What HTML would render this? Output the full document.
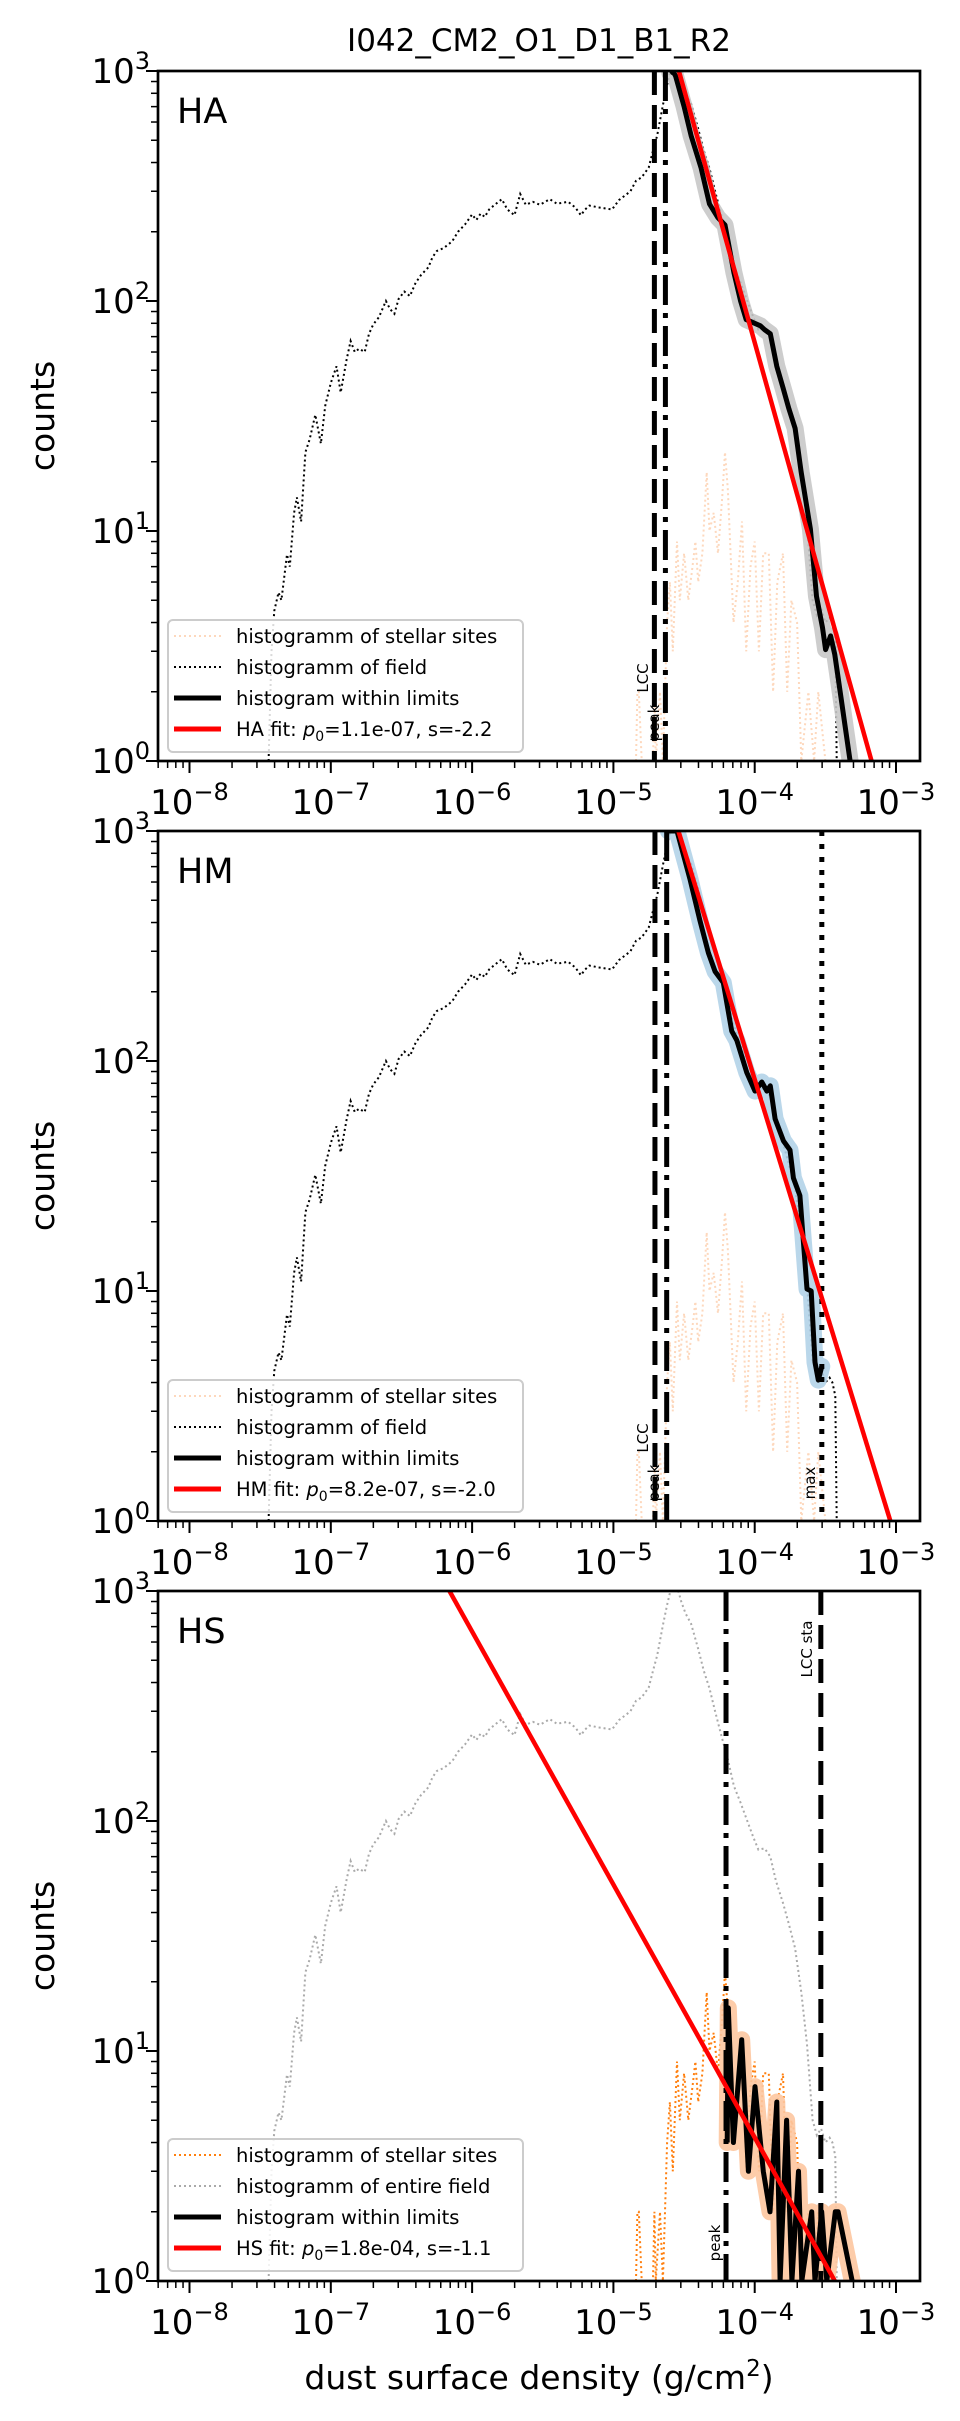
<!DOCTYPE html>
<html><head><meta charset="utf-8"><style>
html,body{margin:0;padding:0;background:#fff;}
svg{display:block;font-family:"DejaVu Sans","Liberation Sans",sans-serif;}
</style></head><body>
<svg id="fig" width="960" height="2421" viewBox="0 0 960 2421" xmlns="http://www.w3.org/2000/svg">
<rect width="960" height="2421" fill="#fff"/>
<text x="539" y="51" font-size="31" text-anchor="middle">I042_CM2_O1_D1_B1_R2</text>
<text x="539" y="2389" font-size="33" text-anchor="middle">dust surface density (g/cm<tspan dy="-13" font-size="23">2</tspan><tspan dy="13">)</tspan></text>
<g id="panels"></g>
</svg>
<script>
// ---- data (x values are log10 of dust surface density, g/cm^2) ----
const fieldLogX = [-7.44,-7.42,-7.40,-7.37,-7.35,-7.31,-7.29,-7.26,-7.24,-7.21,-7.18,-7.15,-7.11,-7.07,-7.04,-7.00,-6.96,-6.93,-6.89,-6.86,-6.83,-6.80,-6.76,-6.73,-6.70,-6.66,-6.61,-6.58,-6.55,-6.52,-6.48,-6.44,-6.40,-6.36,-6.31,-6.28,-6.25,-6.20,-6.14,-6.10,-6.05,-6.00,-5.97,-5.94,-5.91,-5.88,-5.84,-5.79,-5.75,-5.70,-5.66,-5.62,-5.57,-5.52,-5.45,-5.40,-5.32,-5.27,-5.23,-5.20,-5.17,-5.10,-5.01,-4.96,-4.92,-4.88,-4.84,-4.80,-4.75,-4.72,-4.69,-4.65,-4.62,-4.60,-4.58,-4.55,-4.52,-4.49,-4.45,-4.40,-4.36,-4.32,-4.28,-4.234,-4.19,-4.147,-4.10,-4.06,-4.01,-3.974,-3.93,-3.89,-3.85,-3.80,-3.76,-3.714,-3.67,-3.63,-3.59,-3.56,-3.53,-3.50,-3.47,-3.45,-3.43,-3.42];
const fieldCounts = [1,3,4.5,5.4,5,7.9,7,12,14,11,22,25,32,24,35,44,52,40,55,67,60,62,60,72,79,85,100,92,88,102,110,105,120,130,140,155,165,170,182,200,215,238,225,240,232,250,262,277,250,236,292,262,270,262,277,265,270,255,236,250,260,255,250,275,287,300,333,345,380,450,525,710,870,980,1100,1050,900,800,720,560,450,377,300,233,185,142,120,103,85,75,76,70,55,44,36,28,18,10.7,5,4.3,4.6,4,4.2,4,3.5,1];
const stellarLogX = [-4.84,-4.83,-4.82,-4.80,-4.72,-4.71,-4.70,-4.67,-4.65,-4.62,-4.60,-4.58,-4.55,-4.53,-4.50,-4.47,-4.44,-4.42,-4.40,-4.37,-4.34,-4.32,-4.29,-4.26,-4.23,-4.21,-4.19,-4.15,-4.12,-4.09,-4.06,-4.03,-4.00,-3.97,-3.94,-3.90,-3.87,-3.84,-3.80,-3.77,-3.74,-3.70,-3.67,-3.62,-3.58,-3.55,-3.50];
const stellarCounts = [1,2,2,1,1,2,1,2,1,4,6,3,9,5,8,5,7,9,6,8,18,10,12,8,14,22,15,4,6,11,3,7,9,3,8,8,2,6,8,2,5,4,1,2,1,2,1];
const limitsLogX_HA = [-4.60,-4.58,-4.56,-4.50,-4.45,-4.38,-4.32,-4.26,-4.21,-4.147,-4.10,-4.06,-4.00,-3.96,-3.93,-3.89,-3.844,-3.80,-3.758,-3.714,-3.671,-3.606,-3.563,-3.52,-3.498,-3.463,-3.433,-3.39,-3.325];
const limitsCounts_HA = [980,1000,950,700,524,380,264,230,214,133,100,83,80,78,75,72,52,42,34,28,18,10.2,5.2,3.8,3.05,3.5,2.9,1.9,1];
const limitsLogX_HM = [-4.611,-4.55,-4.458,-4.387,-4.328,-4.28,-4.222,-4.163,-4.127,-4.056,-3.998,-3.95,-3.914,-3.89,-3.856,-3.797,-3.75,-3.726,-3.68,-3.63,-3.60,-3.573,-3.55,-3.525];
const limitsCounts_HM = [1000,1000,617,407,295,245,219,135,123,89,74,81,74,78,56,45,41,31,26,10.2,10,4.9,4.1,4.7];
const limitsLogX_HS = [-4.195,-4.187,-4.151,-4.092,-4.045,-3.998,-3.939,-3.892,-3.844,-3.82,-3.774,-3.737,-3.69,-3.667,-3.597,-3.573,-3.526,-3.49,-3.43,-3.41,-3.31];
const limitsCounts_HS = [4,15.4,4,11.2,3,7,3,2,6,1,5,1,3,1,2,1,2,1,2,2,1];
const panelNames = ["HA","HM","HS"];
const fitSlopes = [-2.2,-2.0,-1.1];
const fitUnitLogX = [-3.173,-3.04,-3.433];
const fitLabels = ["HA fit: ","HM fit: ","HS fit: "];
const fitP0 = ["1.1e-07","8.2e-07","1.8e-04"];
const peakLogX = [-4.632,-4.623,-4.203];
const lccLogX = [-4.71,-4.706,-3.532];
const maxLogX = [null,-3.525,null];
const xTickExps = [-8,-7,-6,-5,-4,-3];
const yTickExps = [0,1,2,3];

// ---- layout ----
const NS = "http://www.w3.org/2000/svg";
const L = 158, R = 920, PH = 690, TOPS = [71, 831, 1591];
const XMIN = -8.223, DEC = 141.3, YDEC = 230;
const root = document.getElementById('panels');
function mk(tag, attrs, parent) {
  const e = document.createElementNS(NS, tag);
  for (const k in attrs) e.setAttribute(k, attrs[k]);
  (parent || root).appendChild(e);
  return e;
}
function xs(lx) { return L + (lx - XMIN) * DEC; }
function pathFrom(lxArr, cArr, ys) {
  return lxArr.map((lx, i) => (i ? 'L' : 'M') + xs(lx).toFixed(1) + ' ' + ys(cArr[i]).toFixed(1)).join(' ');
}
const haloColors = ["#c8c8c8", "#b3d3e8", "#fdc7a0"];
const stellarColors = ["#fdd8bd", "#fdd8bd", "#ff7f0e"];
const fieldColors = ["#000", "#000", "#aaa"];
const fieldLegend = ["histogramm of field", "histogramm of field", "histogramm of entire field"];

for (let p = 0; p < 3; p++) {
  const T = TOPS[p], B = T + PH;
  const ys = c => B - Math.log10(Math.max(c, 0.5)) * YDEC;
  const g = mk('g', {});
  
  
  const cp = mk('clipPath', {id: 'clip' + p}, g);
  mk('rect', {x: L, y: T, width: R - L, height: PH}, cp);
  const data = mk('g', {'clip-path': 'url(#clip' + p + ')'}, g);

  const st = mk('path', {d: pathFrom(stellarLogX, stellarCounts, ys), fill: 'none', stroke: stellarColors[p], 'stroke-width': 2, 'stroke-dasharray': '2,3'}, data);
  
  
  const fd = mk('path', {d: pathFrom(fieldLogX, fieldCounts, ys), fill: 'none', stroke: fieldColors[p], 'stroke-width': 2, 'stroke-dasharray': '2,3'}, data);
  
  

  const lx = [limitsLogX_HA, limitsLogX_HM, limitsLogX_HS][p];
  const lc = [limitsCounts_HA, limitsCounts_HM, limitsCounts_HS][p];
  const halo = mk('path', {d: pathFrom(lx, lc, ys), fill: 'none', stroke: haloColors[p], 'stroke-width': 17, 'stroke-linejoin': 'round', 'stroke-linecap': 'round', opacity: 0.9}, data);
  
  

  const vPeak = mk('line', {x1: xs(peakLogX[p]), x2: xs(peakLogX[p]), y1: T, y2: B, stroke: '#000', 'stroke-width': 5, 'stroke-dasharray': '30,8,5,8'}, data);
  
  
  const vL = mk('line', {x1: xs(lccLogX[p]), x2: xs(lccLogX[p]), y1: T, y2: B, stroke: '#000', 'stroke-width': 5, 'stroke-dasharray': '24,10'}, data);
  
  
  if (maxLogX[p] !== null) {
    const vM = mk('line', {x1: xs(maxLogX[p]), x2: xs(maxLogX[p]), y1: T, y2: B, stroke: '#000', 'stroke-width': 5, 'stroke-dasharray': '5,8'}, data);
    
    
  }

  const lim = mk('path', {d: pathFrom(lx, lc, ys), fill: 'none', stroke: '#000', 'stroke-width': 5, 'stroke-linejoin': 'round'}, data);
  
  

  const fx0 = XMIN, fx1 = -2.8;
  const fit = mk('line', {x1: xs(fx0), y1: B - fitSlopes[p] * (fx0 - fitUnitLogX[p]) * YDEC, x2: xs(fx1), y2: B - fitSlopes[p] * (fx1 - fitUnitLogX[p]) * YDEC, stroke: '#ff0000', 'stroke-width': 4.5}, data);
  
  

  function vlabel(txt, x, y, name) {
    const t = mk('text', {x: x, y: y, 'font-size': 15, 'text-anchor': 'middle', transform: 'rotate(-90 ' + x + ' ' + y + ')'}, g);
    t.textContent = txt;
    
    
  }
  if (p < 2) {
    vlabel('LCC', 648, T + 607, 'lcc-label');
    vlabel('peak', 659, T + 652, 'peak-label');
    if (p === 1) vlabel('max', 815, T + 652, 'max-label');
  } else {
    vlabel('peak', 720, T + 652, 'peak-label');
    vlabel('LCC sta', 812, T + 58, 'lcc-sta-label');
  }

  const fr = mk('rect', {x: L, y: T, width: R - L, height: PH, fill: 'none', stroke: '#000', 'stroke-width': 2.7}, g);
  
  

  const pl = mk('text', {x: 177, y: T + 52, 'font-size': 35}, g);
  pl.textContent = panelNames[p];
  
  

  for (const e of yTickExps) {
    const y = B - e * YDEC;
    mk('line', {x1: L - 12, x2: L, y1: y, y2: y, stroke: '#000', 'stroke-width': 2}, g);
    const t = mk('text', {x: 150, y: y + 12, 'font-size': 34, 'text-anchor': 'end'}, g);
    t.innerHTML = '10<tspan dy="-14" font-size="24">' + e + '</tspan>';
    
    
    if (e < 3) for (let m = 2; m <= 9; m++) {
      const ym = B - (e + Math.log10(m)) * YDEC;
      mk('line', {x1: L - 7, x2: L, y1: ym, y2: ym, stroke: '#000', 'stroke-width': 1.5}, g);
    }
  }
  for (let k = -9; k <= -3; k++) {
    for (let m = 1; m <= 9; m++) {
      const lxv = k + Math.log10(m);
      if (lxv < XMIN || lxv > -2.83) continue;
      const x = xs(lxv);
      mk('line', {x1: x, x2: x, y1: B, y2: B + (m === 1 ? 12 : 7), stroke: '#000', 'stroke-width': m === 1 ? 2 : 1.5}, g);
    }
  }
  for (const e of xTickExps) {
    const x = xs(e);
    const t = mk('text', {x: x, y: B + 53, 'font-size': 34, 'text-anchor': 'middle'}, g);
    t.innerHTML = '10<tspan dy="-14" font-size="24">\u2212' + (-e) + '</tspan>';
    
    
  }
  const yl = mk('text', {x: 54, y: T + 345, 'font-size': 33, 'text-anchor': 'middle', transform: 'rotate(-90 54 ' + (T + 345) + ')'}, g);
  yl.textContent = 'counts';
  
  

  const lg = mk('g', {}, g);
  
  
  const lt = p < 2 ? T + 549 : T + 548;
  mk('rect', {x: 168, y: lt, width: 355, height: 132, rx: 5, fill: '#fff', 'fill-opacity': 0.85, stroke: '#ccc', 'stroke-width': 2}, lg);
  const rows = [
    {s: stellarColors[p], w: 2, d: '2,3', txt: 'histogramm of stellar sites'},
    {s: fieldColors[p], w: 2, d: '2,3', txt: fieldLegend[p]},
    {s: '#000', w: 5, d: 'none', txt: 'histogram within limits'},
    {s: '#ff0000', w: 5, d: 'none', txt: null}
  ];
  rows.forEach((r, i) => {
    const by = lt + 23 + i * 31;
    mk('line', {x1: 174, x2: 221, y1: by - 7, y2: by - 7, stroke: r.s, 'stroke-width': r.w, 'stroke-dasharray': r.d}, lg);
    const t = mk('text', {x: 236, y: by, 'font-size': 19.5}, lg);
    if (r.txt) t.textContent = r.txt;
    else t.innerHTML = fitLabels[p] + '<tspan font-style="italic">p</tspan><tspan dy="5" font-size="14">0</tspan><tspan dy="-5">=' + fitP0[p] + ', s=' + fitSlopes[p].toFixed(1) + '</tspan>';
    
    
  });
}
</script>
</body></html>
